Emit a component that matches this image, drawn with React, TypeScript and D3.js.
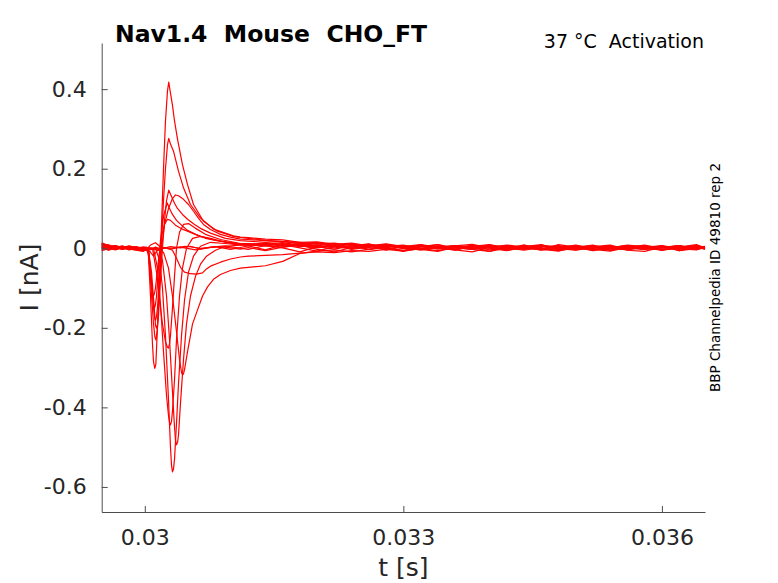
import React, { useRef, useEffect } from "react";
import * as d3 from "d3";

// sweep names (activation steps, low -> high voltage)
const sweeps = ["F1", "F2", "F3", "T1", "T2", "T3", "T4", "T5", "T6", "N1", "N2", "N3", "N4", "N5", "N6"];

// baseline samples before the step (s)
const preT = [0.0295, 0.02958, 0.02966, 0.02974, 0.02982, 0.0299, 0.02998];

// late samples after the transient (s)
const tailT = [
  0.0312, 0.0314, 0.0316, 0.0318, 0.032, 0.0322, 0.0324, 0.0326, 0.0328, 0.033,
  0.0332, 0.0334, 0.0336, 0.0338, 0.034, 0.0342, 0.0344, 0.0346, 0.0348, 0.035,
  0.0352, 0.0354, 0.0356, 0.0358, 0.036, 0.0362, 0.0364, 0.0365,
];

// current before the step (nA), one row per sweep
const preI = [
  [0.008, 0.003, -0.002, 0.004, 0.001, -0.003, 0.002],
  [0.012, 0.006, 0.002, -0.003, 0.003, 0.001, -0.004],
  [0.003, -0.004, 0.002, 0.006, -0.001, 0.002, 0.0],
  [0.01, 0.004, 0.006, 0.0, 0.003, -0.002, 0.001],
  [-0.003, 0.002, 0.005, 0.001, -0.004, 0.001, 0.003],
  [0.006, 0.009, 0.002, 0.004, 0.0, 0.003, -0.002],
  [0.001, -0.005, 0.001, 0.003, 0.005, 0.0, 0.002],
  [0.014, 0.007, 0.003, -0.002, 0.002, 0.004, -0.001],
  [0.004, 0.0, -0.004, 0.002, 0.006, 0.001, -0.003],
  [0.009, 0.005, 0.007, 0.002, -0.002, -0.004, -0.006],
  [-0.006, -0.001, 0.003, -0.002, 0.001, 0.003, 0.0],
  [0.005, 0.002, -0.003, 0.001, 0.004, 0.0, -0.004],
  [0.002, 0.006, 0.001, 0.005, -0.001, -0.005, -0.008],
  [0.011, 0.004, 0.0, 0.003, 0.002, -0.002, 0.001],
  [-0.002, 0.003, 0.006, 0.0, 0.002, -0.003, -0.005],
];

// transient part of each sweep: [t (s), I (nA)]
const transients: [number, number][][] = [
  [[0.03002, 0.002], [0.030066, -0.004], [0.030124, 0.003], [0.030182, -0.002], [0.030298, 0.004], [0.030414, 0.001], [0.03053, 0.005], [0.030646, -0.002], [0.03082, 0.004], [0.030994, -0.003], [0.03111, 0.002]],
  [[0.03002, -0.003], [0.030066, 0.008], [0.030124, 0.014], [0.030182, 0.003], [0.030298, -0.002], [0.030414, 0.003], [0.030589, -0.004], [0.030762, 0.003], [0.030936, 0.006], [0.03111, 0.0]],
  [[0.03002, 0.001], [0.030066, -0.01], [0.030101, -0.02], [0.030136, -0.008], [0.030182, 0.002], [0.030298, 0.0], [0.030472, 0.005], [0.030646, 0.0], [0.030878, 0.004], [0.03111, -0.002]],
  [[0.03002, 0.0], [0.030124, -0.003], [0.03024, 0.002], [0.030321, -0.005], [0.030368, -0.025], [0.030414, -0.048], [0.030461, -0.06], [0.03053, -0.064], [0.0306, -0.065], [0.03067, -0.062], [0.030716, -0.052], [0.030762, -0.045], [0.030878, -0.035], [0.030994, -0.027], [0.03111, -0.022]],
  [[0.03002, 0.002], [0.030124, -0.002], [0.030217, -0.01], [0.030275, -0.05], [0.030321, -0.12], [0.030368, -0.21], [0.030403, -0.28], [0.030426, -0.312], [0.030437, -0.318], [0.030449, -0.316], [0.030461, -0.305], [0.030496, -0.26], [0.030554, -0.19], [0.030612, -0.155], [0.03067, -0.12], [0.030728, -0.097], [0.030797, -0.078], [0.030878, -0.066], [0.030994, -0.056], [0.03111, -0.05]],
  [[0.03002, -0.001], [0.030159, 0.0], [0.030205, -0.03], [0.030252, -0.12], [0.030287, -0.23], [0.030321, -0.36], [0.030345, -0.45], [0.030356, -0.482], [0.030368, -0.494], [0.03038, -0.488], [0.030391, -0.47], [0.030414, -0.39], [0.030449, -0.28], [0.030484, -0.19], [0.03053, -0.12], [0.030589, -0.07], [0.030646, -0.04], [0.030716, -0.02], [0.03082, -0.005], [0.030936, 0.005], [0.03111, 0.008]],
  [[0.03002, 0.001], [0.030124, 0.0], [0.030171, -0.03], [0.030205, -0.1], [0.03024, -0.22], [0.030275, -0.38], [0.030298, -0.5], [0.03031, -0.545], [0.030321, -0.562], [0.030333, -0.555], [0.030345, -0.53], [0.030368, -0.44], [0.030391, -0.34], [0.030426, -0.22], [0.030461, -0.13], [0.030507, -0.06], [0.030565, -0.02], [0.030646, 0.005], [0.030762, 0.015], [0.030936, 0.012], [0.03111, 0.008]],
  [[0.03002, 0.0], [0.030101, 0.0], [0.030147, -0.05], [0.030182, -0.14], [0.030217, -0.26], [0.030252, -0.37], [0.030275, -0.42], [0.030287, -0.438], [0.030298, -0.444], [0.03031, -0.435], [0.030321, -0.41], [0.030345, -0.33], [0.030368, -0.23], [0.030403, -0.12], [0.030437, -0.05], [0.030484, 0.0], [0.030554, 0.025], [0.030646, 0.03], [0.030762, 0.025], [0.030936, 0.015], [0.03111, 0.01]],
  [[0.03002, 0.0], [0.030089, 0.0], [0.030136, -0.06], [0.030171, -0.13], [0.030205, -0.19], [0.03024, -0.235], [0.030263, -0.249], [0.030275, -0.251], [0.030287, -0.24], [0.030298, -0.22], [0.030321, -0.15], [0.030345, -0.07], [0.030368, 0.0], [0.030403, 0.04], [0.030449, 0.06], [0.030507, 0.062], [0.030589, 0.05], [0.030704, 0.035], [0.030878, 0.022], [0.03111, 0.012]],
  [[0.03002, 0.002], [0.030043, -0.02], [0.030066, -0.12], [0.030089, -0.24], [0.030101, -0.285], [0.030116, -0.302], [0.030128, -0.292], [0.030147, -0.2], [0.030171, -0.08], [0.030194, 0.06], [0.030217, 0.2], [0.03024, 0.32], [0.030263, 0.395], [0.030278, 0.418], [0.030298, 0.39], [0.030321, 0.36], [0.030345, 0.32], [0.030379, 0.275], [0.030437, 0.21], [0.030496, 0.16], [0.030565, 0.11], [0.030681, 0.068], [0.030843, 0.043], [0.031029, 0.03], [0.03111, 0.027]],
  [[0.03002, -0.002], [0.030043, -0.01], [0.030066, -0.08], [0.030101, -0.19], [0.030118, -0.224], [0.03013, -0.231], [0.030147, -0.2], [0.030171, -0.09], [0.030194, 0.02], [0.030217, 0.12], [0.03024, 0.2], [0.030263, 0.26], [0.030278, 0.276], [0.030298, 0.262], [0.030333, 0.244], [0.030391, 0.194], [0.030449, 0.152], [0.03053, 0.11], [0.030646, 0.076], [0.030797, 0.048], [0.031029, 0.031], [0.03111, 0.028]],
  [[0.03002, 0.0], [0.030043, -0.005], [0.030078, -0.06], [0.030113, -0.16], [0.030124, -0.193], [0.030136, -0.201], [0.030147, -0.192], [0.030159, -0.17], [0.030182, -0.08], [0.030205, 0.0], [0.030229, 0.07], [0.030252, 0.12], [0.030278, 0.146], [0.03031, 0.13], [0.030345, 0.113], [0.030379, 0.1], [0.030437, 0.085], [0.030496, 0.073], [0.030577, 0.06], [0.030646, 0.05], [0.030762, 0.038], [0.030936, 0.025], [0.03111, 0.019]],
  [[0.03002, -0.003], [0.030043, -0.005], [0.030078, -0.08], [0.030101, -0.15], [0.030113, -0.174], [0.030124, -0.181], [0.030136, -0.172], [0.030147, -0.15], [0.030171, -0.07], [0.030194, 0.0], [0.030229, 0.06], [0.030275, 0.1], [0.030321, 0.125], [0.030356, 0.134], [0.030391, 0.132], [0.030449, 0.123], [0.030507, 0.11], [0.030565, 0.093], [0.030624, 0.075], [0.030681, 0.06], [0.030762, 0.047], [0.030878, 0.035], [0.030994, 0.028], [0.03111, 0.023]],
  [[0.03002, 0.001], [0.030043, -0.01], [0.030078, -0.09], [0.030101, -0.14], [0.030113, -0.15], [0.030124, -0.142], [0.030136, -0.12], [0.030159, -0.05], [0.030182, 0.02], [0.030217, 0.08], [0.03026, 0.114], [0.030287, 0.1], [0.030321, 0.085], [0.030368, 0.07], [0.030426, 0.058], [0.030496, 0.045], [0.030589, 0.035], [0.030704, 0.025], [0.030878, 0.018], [0.03111, 0.011]],
  [[0.03002, -0.005], [0.030043, -0.01], [0.030066, -0.07], [0.030089, -0.112], [0.030101, -0.12], [0.030113, -0.113], [0.030124, -0.1], [0.030159, -0.03], [0.030194, 0.03], [0.030229, 0.06], [0.030263, 0.073], [0.030298, 0.07], [0.030356, 0.058], [0.030437, 0.048], [0.03053, 0.04], [0.030646, 0.03], [0.03082, 0.02], [0.03111, 0.01]],
];

// current after the transient (nA), one row per sweep
const tailI = [
  [0.006, -0.004, 0.009, 0.001, -0.007, 0.004, 0.01, -0.003, 0.003, -0.008, 0.006, 0.001, -0.005, 0.008, 0.0, -0.006, 0.004, 0.009, -0.003, 0.002, 0.008, -0.005, 0.003, -0.002, 0.007, -0.006, 0.003, 0.0],
  [-0.003, 0.007, 0.001, -0.009, 0.004, -0.002, 0.006, 0.011, 0.0, -0.005, 0.003, 0.009, -0.003, 0.002, -0.008, 0.005, 0.0, -0.004, 0.009, 0.003, -0.006, 0.001, 0.008, 0.004, -0.005, 0.003, 0.009, 0.001],
  [0.002, -0.006, 0.003, 0.008, -0.003, -0.009, 0.002, 0.006, -0.005, 0.005, -0.003, -0.008, 0.003, 0.007, 0.001, -0.005, 0.008, -0.002, -0.007, 0.004, 0.0, 0.006, -0.005, -0.008, 0.003, 0.006, -0.003, 0.004],
  [-0.02, -0.018, -0.016, -0.012, -0.009, -0.011, -0.006, -0.008, -0.003, -0.007, -0.001, -0.006, 0.002, -0.003, -0.008, 0.0, 0.004, -0.005, -0.001, 0.005, -0.003, -0.007, 0.002, 0.004, -0.005, 0.0, 0.005, -0.002],
  [-0.048, -0.044, -0.033, -0.013, -0.007, -0.004, -0.009, -0.002, 0.001, -0.006, -0.001, 0.003, -0.004, -0.009, 0.002, -0.003, 0.005, -0.001, -0.006, 0.0, 0.004, -0.005, 0.002, -0.003, 0.005, -0.006, -0.001, 0.002],
  [0.008, 0.006, 0.011, 0.004, 0.008, 0.001, 0.006, -0.003, 0.005, 0.008, -0.001, 0.004, -0.004, 0.005, 0.009, 0.001, -0.005, 0.002, 0.007, -0.001, 0.004, 0.008, -0.003, 0.002, 0.007, -0.001, -0.004, 0.002],
  [0.008, 0.011, 0.005, 0.009, 0.002, 0.007, -0.001, 0.005, 0.009, 0.002, -0.004, 0.003, 0.007, -0.001, 0.002, 0.008, 0.003, -0.003, 0.005, 0.001, -0.005, 0.002, 0.006, -0.001, -0.004, 0.003, 0.007, 0.001],
  [0.01, 0.013, 0.007, 0.01, 0.004, 0.007, 0.011, 0.002, 0.006, -0.001, 0.004, 0.009, 0.001, -0.003, 0.003, 0.007, 0.0, 0.005, -0.004, 0.002, 0.007, 0.0, -0.004, 0.004, 0.001, 0.006, -0.002, 0.002],
  [0.012, 0.01, 0.014, 0.008, 0.011, 0.005, 0.003, 0.009, 0.002, 0.007, 0.0, 0.006, -0.002, 0.003, 0.008, 0.001, -0.003, 0.005, 0.002, 0.007, -0.001, -0.004, 0.003, 0.008, 0.0, 0.002, 0.005, -0.001],
  [0.025, 0.02, 0.017, 0.012, 0.014, 0.008, 0.011, 0.005, 0.01, 0.003, 0.008, 0.002, 0.006, 0.01, 0.001, 0.005, -0.001, 0.008, 0.003, -0.002, 0.005, 0.001, 0.007, -0.001, 0.004, -0.003, 0.002, 0.004],
  [0.027, 0.023, 0.021, 0.015, 0.016, 0.01, 0.013, 0.006, 0.011, 0.004, 0.009, 0.003, 0.0, 0.007, 0.002, 0.006, -0.002, 0.005, 0.001, 0.008, 0.0, 0.003, -0.003, 0.005, 0.001, 0.007, -0.001, 0.002],
  [0.018, 0.015, 0.017, 0.011, 0.013, 0.007, 0.01, 0.004, 0.008, 0.001, 0.007, 0.0, 0.004, -0.001, 0.006, 0.001, 0.008, -0.002, 0.003, -0.004, 0.002, 0.005, -0.001, 0.004, -0.003, 0.002, 0.006, 0.0],
  [0.022, 0.019, 0.017, 0.015, 0.011, 0.013, 0.007, 0.01, 0.005, 0.002, 0.008, 0.001, 0.006, 0.0, 0.004, -0.002, 0.003, 0.007, 0.0, 0.004, -0.003, 0.002, 0.005, -0.001, 0.003, -0.002, 0.002, 0.005],
  [0.01, 0.008, 0.012, 0.005, 0.003, 0.008, 0.0, 0.006, -0.001, 0.003, 0.007, -0.002, 0.002, 0.005, -0.004, 0.001, 0.004, 0.007, -0.001, -0.005, 0.002, 0.005, 0.0, -0.003, 0.002, 0.006, 0.0, -0.001],
  [0.01, 0.006, 0.003, 0.009, 0.001, 0.006, -0.003, 0.003, 0.007, 0.0, -0.004, 0.002, 0.006, -0.001, 0.004, -0.005, 0.001, 0.005, 0.002, -0.003, 0.004, -0.001, 0.006, 0.002, -0.004, 0.001, 0.004, -0.002],
];

const xTicks = [0.03, 0.033, 0.036];
const yTicks = [-0.6, -0.4, -0.2, 0, 0.2, 0.4];

const App: React.FC = () => {
  const svgRef = useRef<SVGSVGElement | null>(null);

  useEffect(() => {
    if (!svgRef.current) return;
    const svg = d3.select(svgRef.current);
    svg.selectAll("*").remove();

    const left = 101.7, right = 705, top = 43, bottom = 512;
    const font = "'DejaVu Sans', sans-serif";
    const axisColor = "#4d4d4d";

    const x = d3.scaleLinear().domain([0.0295, 0.0365]).range([left, right]);
    const y = d3.scaleLinear().domain([-0.663, 0.516]).range([bottom, top]);

    // build each sweep from its three pieces
    const series = sweeps.map((_, i) => {
      const pts: [number, number][] = [];
      preT.forEach((t, j) => pts.push([t, preI[i][j]]));
      transients[i].forEach((p) => pts.push(p));
      tailT.forEach((t, j) => pts.push([t, tailI[i][j]]));
      return pts;
    });

    const line = d3
      .line<[number, number]>()
      .x((d) => x(d[0]))
      .y((d) => y(d[1]));

    svg
      .append("g")
      .selectAll("path")
      .data(series)
      .enter()
      .append("path")
      .attr("d", (d) => line(d))
      .attr("fill", "none")
      .attr("stroke", "#ff0000")
      .attr("stroke-width", 1.2)
      .attr("stroke-linejoin", "round");

    // axes (MATLAB style: ticks inside)
    const yAxis = svg
      .append("g")
      .attr("transform", `translate(${left},0)`)
      .call(
        d3
          .axisLeft(y)
          .tickValues(yTicks)
          .tickSizeInner(-6)
          .tickSizeOuter(0)
          .tickPadding(15)
          .tickFormat((d) => String(+d))
      );

    const xAxis = svg
      .append("g")
      .attr("transform", `translate(0,${bottom})`)
      .call(
        d3
          .axisBottom(x)
          .tickValues(xTicks)
          .tickSizeInner(-6)
          .tickSizeOuter(0)
          .tickPadding(17)
          .tickFormat((d) => String(+d))
      );

    [xAxis, yAxis].forEach((ax) => {
      ax.select(".domain").attr("stroke", axisColor);
      ax.selectAll(".tick line").attr("stroke", axisColor);
      ax.selectAll("text")
        .attr("fill", "#262626")
        .style("font-family", font)
        .style("font-size", "22px");
    });

    // labels
    svg
      .append("text")
      .attr("x", (left + right) / 2)
      .attr("y", 576)
      .attr("text-anchor", "middle")
      .attr("fill", "#262626")
      .style("font-family", font)
      .style("font-size", "25px")
      .text("t [s]");

    svg
      .append("text")
      .attr("transform", `translate(38,${(top + bottom) / 2}) rotate(-90)`)
      .attr("text-anchor", "middle")
      .attr("fill", "#262626")
      .style("font-family", font)
      .style("font-size", "25px")
      .text("I [nA]");

    svg
      .append("text")
      .attr("x", 115)
      .attr("y", 42)
      .attr("fill", "#000")
      .style("font-family", font)
      .style("font-weight", "bold")
      .style("font-size", "23.5px")
      .style("white-space", "pre")
      .text("Nav1.4  Mouse  CHO_FT");

    svg
      .append("text")
      .attr("x", 704)
      .attr("y", 48)
      .attr("text-anchor", "end")
      .attr("fill", "#000")
      .style("font-family", font)
      .style("font-size", "19px")
      .style("white-space", "pre")
      .text("37 °C  Activation");

    svg
      .append("text")
      .attr("transform", `translate(720,${(top + bottom) / 2}) rotate(-90)`)
      .attr("text-anchor", "middle")
      .attr("fill", "#000")
      .style("font-family", font)
      .style("font-size", "13.5px")
      .text("BBP Channelpedia ID 49810 rep 2");
  }, []);

  return (
    <svg
      ref={svgRef}
      width={778}
      height={583}
      style={{ position: "absolute", left: 0, top: 0, background: "#fff" }}
    />
  );
};

export default App;
